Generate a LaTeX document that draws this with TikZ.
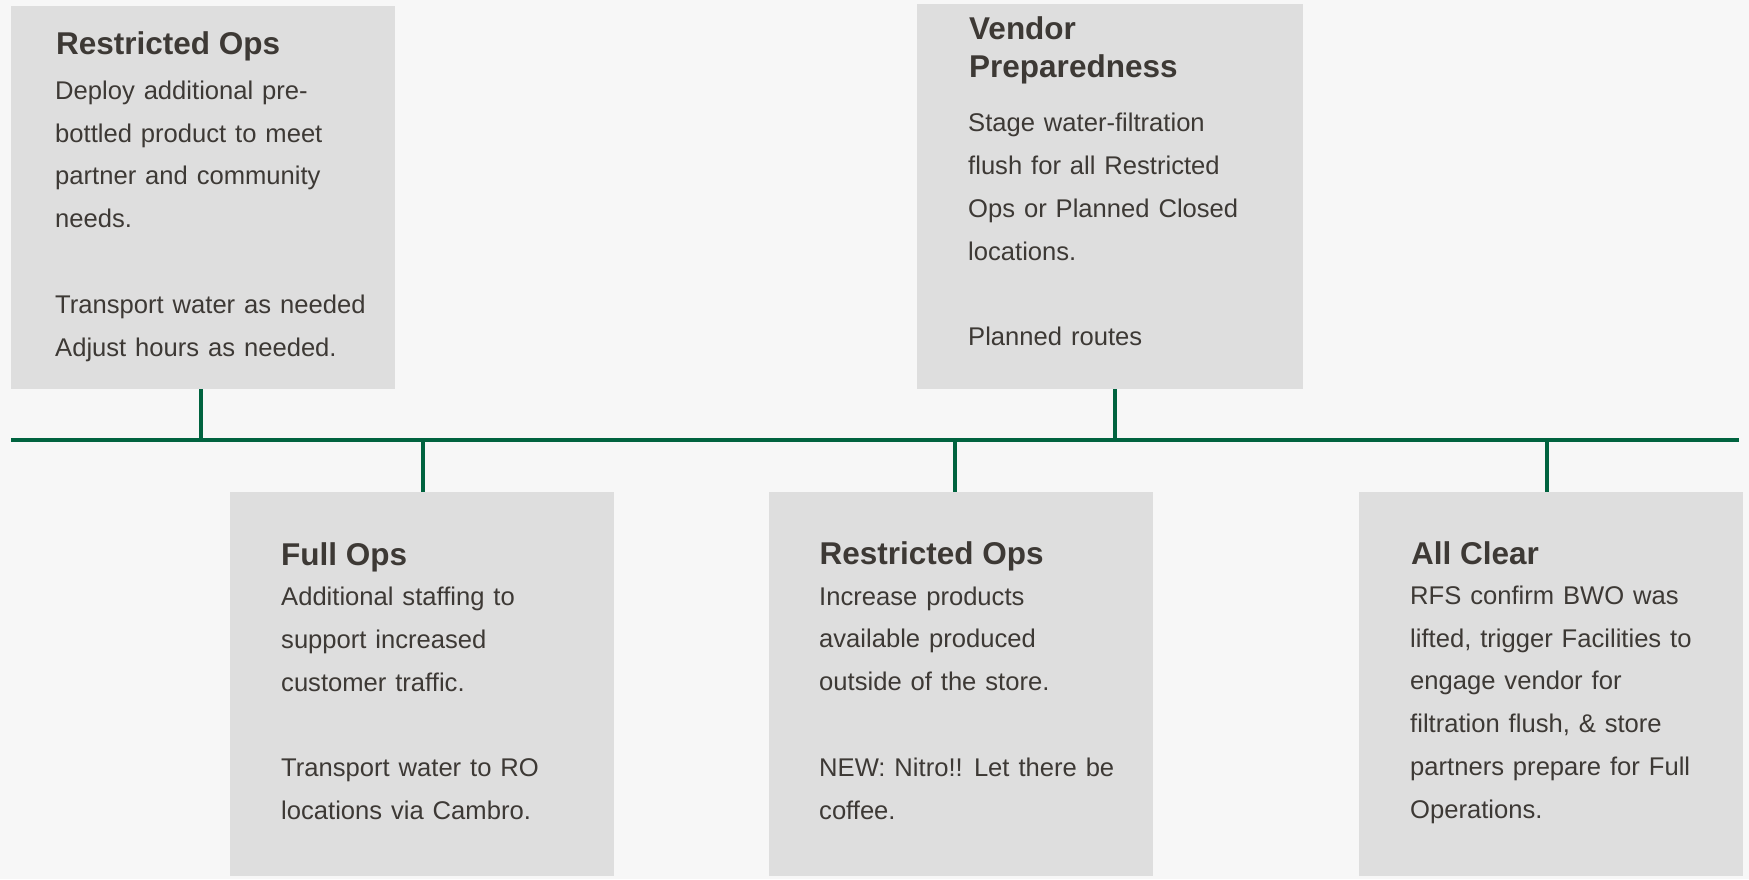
\documentclass[tikz,border=0pt]{standalone}
\usepackage{fontspec}
\setmainfont{Liberation Sans}

\definecolor{pagebg}{HTML}{F7F7F7}
\definecolor{cardfill}{HTML}{DEDEDE}
\definecolor{inkgray}{HTML}{3D3935}
\definecolor{lineGreen}{HTML}{00633F}

% paragraph blocks whose reference point is the first baseline
\newcommand{\cardbody}[1]{\parbox[t]{400pt}{\fontsize{25.6}{42.8}\selectfont
  \spaceskip=8.9pt\relax #1}}
\newcommand{\cardhead}[1]{\parbox[t]{400pt}{\bfseries\fontsize{31.5}{38}\selectfont #1}}

\tikzset{
  card/.style={fill=cardfill, draw=none, inner sep=0pt,
               minimum width=384pt, minimum height=384pt},
  cardtext/.style={anchor=base west, inner sep=0pt, text=inkgray},
  spine/.style={draw=lineGreen, line width=3.5pt},
  stem/.style={draw=lineGreen, line width=3.5pt}
}

\begin{document}
\begin{tikzpicture}[x=1pt,y=-1pt]
  \fill[pagebg] (0,0) rectangle (1749,879);
  \useasboundingbox (0,0) rectangle (1749,879);

  % cards above the timeline
  \node[card, minimum height=383pt] (c1) at (203,197.5) {};
  \node[card, minimum width=386pt, minimum height=385pt] (c2) at (1110,196.5) {};
  % cards below the timeline
  \node[card] (c3) at (422,684) {};
  \node[card] (c4) at (961,684) {};
  \node[card] (c5) at (1551,684) {};

  % timeline and its stems
  \coordinate (tl0) at (11,440);
  \coordinate (tl9) at (1739,440);
  \coordinate (t1) at (201,440);
  \coordinate (t2) at (1115,440);
  \coordinate (t3) at (423,440);
  \coordinate (t4) at (955,440);
  \coordinate (t5) at (1547,440);
  \draw[spine] (tl0) -- (tl9);
  \draw[stem] (t1) -- (t1 |- c1.south);
  \draw[stem] (t2) -- (t2 |- c2.south);
  \draw[stem] (t3) -- (t3 |- c3.north);
  \draw[stem] (t4) -- (t4 |- c4.north);
  \draw[stem] (t5) -- (t5 |- c5.north);

  % card 1
  \node[cardtext] (h1) at (56,54) {\cardhead{Restricted Ops}};
  \node[cardtext] (b1) at (55,99.3) {\cardbody{Deploy additional pre-\\
    bottled product to meet\\ partner and community\\ needs.\\[42.8pt]
    Transport water as needed\\ Adjust hours as needed.}};

  % card 2
  \node[cardtext] (h2) at (969,39.3) {\cardhead{Vendor\\ Preparedness}};
  \node[cardtext] (b2) at (968,131.7) {\cardbody{Stage water-filtration\\
    flush for all Restricted\\ Ops or Planned Closed\\ locations.\\[42.8pt]
    Planned routes}};

  % card 3
  \node[cardtext] (h3) at (281,565) {\cardhead{Full Ops}};
  \node[cardtext] (b3) at (281,605.7) {\cardbody{Additional staffing to\\
    support increased\\ customer traffic.\\[42.8pt]
    Transport water to RO\\ locations via Cambro.}};

  % card 4
  \node[cardtext] (h4) at (819.5,564) {\cardhead{Restricted Ops}};
  \node[cardtext] (b4) at (819,605) {\cardbody{Increase products\\
    available produced\\ outside of the store.\\[42.8pt]
    NEW: Nitro!! Let there be\\ coffee.}};

  % card 5
  \node[cardtext] (h5) at (1411,564) {\cardhead{All Clear}};
  \node[cardtext] (b5) at (1410,604.3) {\cardbody{RFS confirm BWO was\\
    lifted, trigger Facilities to\\ engage vendor for\\
    filtration flush, \& store\\ partners prepare for Full\\ Operations.}};
\end{tikzpicture}
\end{document}
